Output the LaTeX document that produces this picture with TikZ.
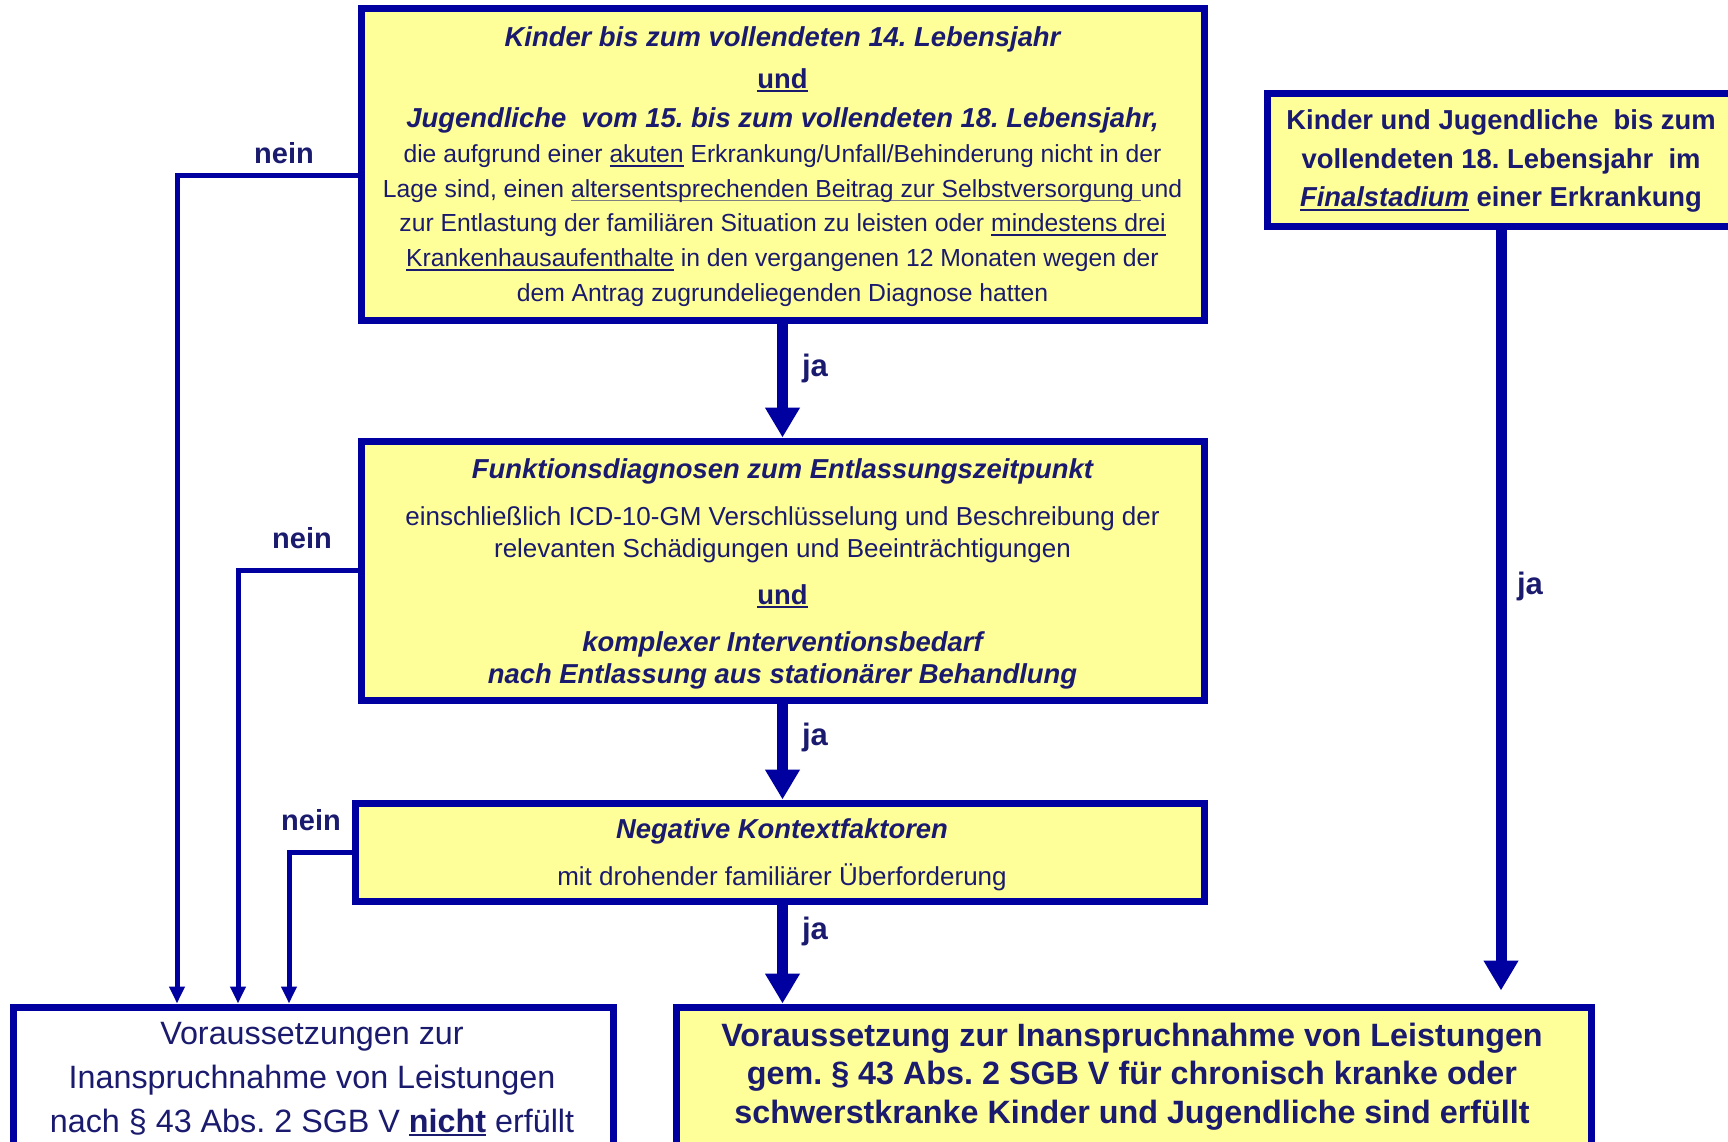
\documentclass[tikz,border=0pt]{standalone}
\usepackage{fontspec}
\setmainfont{Liberation Sans}
\usetikzlibrary{arrows.meta}
\frenchspacing
\definecolor{lineblue}{RGB}{0,0,160}
\definecolor{boxyellow}{RGB}{255,255,153}
\definecolor{txtblue}{RGB}{26,26,110}
\newsavebox\myulbox
\newcommand\myul[2][.]{\sbox\myulbox{#2}\rlap{\color{#1}\rule[-4pt]{\wd\myulbox}{1.7pt}}\usebox\myulbox}
\newcommand\ttl[1]{{\fontsize{27.4}{34}\selectfont\bfseries\itshape #1}}
\newcommand\bund{{\fontsize{27.4}{34}\selectfont\bfseries\myul{und}}}
\tikzset{
  box/.style={draw=lineblue, line width=7pt, fill=boxyellow, inner sep=0pt},
  wbox/.style={box, fill=white},
  txt/.style={text=txtblue, align=center, inner sep=0pt},
  neinarrow/.style={draw=lineblue, line width=5pt, -{Triangle[length=17pt,width=15pt]}},
  jaarrow/.style={draw=lineblue, line width=11pt, -{Triangle[length=30pt,width=33pt]}},
  lab/.style={text=txtblue, inner sep=0pt, font=\fontsize{29}{32}\selectfont\bfseries},
  jalab/.style={lab, font=\fontsize{31}{34}\selectfont\bfseries}
}
\begin{document}
\begin{tikzpicture}[x=1pt,y=-1pt]
\useasboundingbox (0,0) rectangle (1728,1142);
\clip (0,0) rectangle (1728,1142);
% boxes
\node[box, minimum width=843pt, minimum height=311.5pt] (b1) at (782.5,164.25) {};
\node[box, minimum width=468pt, minimum height=132pt] (b2) at (1501,160) {};
\node[box, minimum width=843pt, minimum height=259pt] (b3) at (782.5,570.5) {};
\node[box, minimum width=849pt, minimum height=98pt] (b4) at (779.5,852) {};
\node[wbox, minimum width=600pt, minimum height=153pt] (b5) at (313,1083.5) {};
\node[box, minimum width=915pt, minimum height=153pt] (b6) at (1133.5,1083.5) {};
% helper coordinates
\coordinate (n1) at (177,0);
\coordinate (n2) at (238,0);
\coordinate (n3) at (289,0);
% ja arrows
\draw[jaarrow] (b1.south) -- (b3.north);
\draw[jaarrow] (b3.south) -- (b3.south |- b4.north);
\draw[jaarrow] (b4.south -| b1.south) -- (b1.south |- b6.north);
\draw[jaarrow, shorten >=13pt] (b2.south) -- (b2.south |- b6.north);
% nein arrows
\draw[neinarrow] ([yshift=-11pt]b1.west) -| (b5.north -| n1);
\draw[neinarrow] (b3.west) -| (b5.north -| n2);
\draw[neinarrow] (b4.west) -| (b5.north -| n3);
% labels
\node[lab] (l1) at (284,153) {nein};
\node[lab] (l2) at (302,538) {nein};
\node[lab] (l3) at (311,820) {nein};
\node[jalab] (j1) at (815,368.5) {ja};
\node[jalab] (j2) at (815,737.5) {ja};
\node[jalab] (j3) at (815,931.5) {ja};
\node[jalab] (j4) at (1530,586.5) {ja};
% texts
\node[txt, font=\fontsize{24.7}{34.7}\selectfont] (t1) at (782.5,166.5) {%
\ttl{Kinder bis zum vollendeten 14. Lebensjahr}\\[7pt]
\bund\\[5pt]
\ttl{Jugendliche\ \ vom 15. bis zum vollendeten 18. Lebensjahr,}\\
die aufgrund einer \myul{akuten} Erkrankung/Unfall/Behinderung nicht in der\\
Lage sind, einen \myul[gray]{altersentsprechenden Beitrag zur Selbstversorgung\ }und\\
zur Entlastung der familiären Situation zu leisten oder \myul{mindestens drei}\\
\myul{Krankenhausaufenthalte} in den vergangenen 12 Monaten wegen der\\
dem Antrag zugrundeliegenden Diagnose hatten};
\node[txt, font=\fontsize{27.4}{38.5}\selectfont\bfseries] (t2) at (1501,161) {%
Kinder und Jugendliche\ \ bis zum\\
vollendeten 18. Lebensjahr\ \ im\\
{\itshape\myul{Finalstadium}} einer Erkrankung};
\node[txt, font=\fontsize{26}{32}\selectfont] (t3) at (782.5,573.5) {%
\ttl{Funktionsdiagnosen zum Entlassungszeitpunkt}\\[15pt]
einschließlich ICD-10-GM Verschlüsselung und Beschreibung der\\
relevanten Schädigungen und Beeinträchtigungen\\[15pt]
\bund\\[15pt]
\ttl{komplexer Interventionsbedarf}\\
\ttl{nach Entlassung aus stationärer Behandlung}};
\node[txt, font=\fontsize{26}{32}\selectfont] (t4) at (782,855) {%
\ttl{Negative Kontextfaktoren}\\[15pt]
mit drohender familiärer Überforderung};
\node[txt, font=\fontsize{32.3}{44}\selectfont] (t5) at (312,1079) {%
Voraussetzungen zur\\
Inanspruchnahme von Leistungen\\
nach § 43 Abs. 2 SGB V \textbf{\myul{nicht}} erfüllt};
\node[txt, font=\fontsize{32.3}{38.5}\selectfont\bfseries] (t6) at (1132,1076.5) {%
Voraussetzung zur Inanspruchnahme von Leistungen\\
gem. § 43 Abs. 2 SGB V für chronisch kranke oder\\
schwerstkranke Kinder und Jugendliche sind erfüllt};
\end{tikzpicture}
\end{document}
